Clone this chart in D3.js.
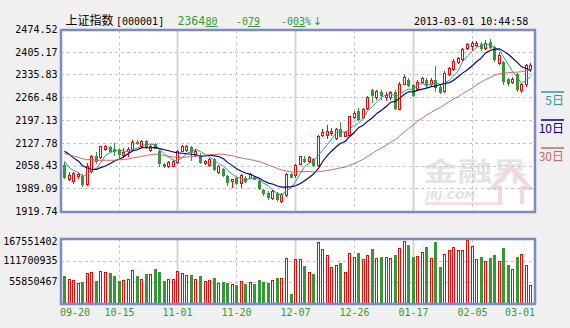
<!DOCTYPE html>
<html>
<head>
<meta charset="utf-8">
<script src="https://cdn.jsdelivr.net/npm/d3@7"></script>
<style>
html, body { margin: 0; padding: 0; background: #f0f0f0; }
svg { display: block; }
</style>
</head>
<body>
<svg id="chart" width="570" height="328"></svg>
<script>
// 上证指数 daily candles, 2012-09-20 .. 2013-03-01
const dates = [
  "09-20","09-21","09-24","09-25","09-26","09-27","09-28",
  "10-08","10-09","10-10","10-11","10-12","10-15","10-16","10-17","10-18","10-19",
  "10-22","10-23","10-24","10-25","10-26","10-29","10-30","10-31",
  "11-01","11-02","11-05","11-06","11-07","11-08","11-09","11-12","11-13","11-14","11-15","11-16",
  "11-19","11-20","11-21","11-22","11-23","11-26","11-27","11-28","11-29","11-30",
  "12-03","12-04","12-05","12-06","12-07","12-10","12-11","12-12","12-13","12-14",
  "12-17","12-18","12-19","12-20","12-21","12-24","12-25","12-26","12-27","12-28","12-31",
  "01-04","01-07","01-08","01-09","01-10","01-11","01-14","01-15","01-16","01-17","01-18",
  "01-21","01-22","01-23","01-24","01-25","01-28","01-29","01-30","01-31",
  "02-01","02-04","02-05","02-06","02-07","02-08","02-18","02-19","02-20","02-21","02-22",
  "02-25","02-26","02-27","02-28","03-01"
];

const opens = [
  2060.5,2016.6,2012.6,2026.8,2027.9,2001.4,2043.1,2085.9,2082.9,2108.4,
  2113.5,2109.4,2106.3,2091.0,2101.2,2108.4,2130.8,2118.6,2131.8,2106.3,
  2122.6,2101.2,2062.5,2055.4,2058.4,2067.6,2103.3,2104.3,2113.5,2091.0,
  2091.0,2065.6,2060.5,2077.8,2040.1,2047.2,2027.9,2012.6,2021.7,2004.4,
  2021.7,2021.7,2024.8,2012.6,1984.0,1976.0,1958.5,1975.9,1951.4,1968.7,
  2031.9,2029.9,2063.5,2078.8,2070.7,2077.8,2060.5,2150.2,2152.2,2157.3,
  2142.0,2169.5,2149.1,2152.2,2206.2,2223.6,2206.2,2233.8,2288,2267,
  2283,2268,2268,2283,2232,2308,2320,2303,2293,2313,
  2320,2306,2318,2298,2285,2338,2354,2374,2382,2417,
  2424,2426,2430,2418,2436,2420,2372,2375,2322,2313,
  2336,2288,2306,2352
];
const highs = [
  2067.6,2040.1,2040.1,2040.1,2033.0,2065.6,2091.0,2098.2,2118.6,2121.6,
  2118.6,2126.7,2111.4,2111.4,2114.5,2136.9,2134.9,2136.9,2136.9,2122.6,
  2126.7,2106.3,2065.6,2070.7,2073.7,2106.3,2119.6,2120.6,2116.5,2108.4,
  2096.1,2075.8,2080.9,2080.9,2060.5,2050.3,2029.9,2017.7,2024.8,2032.9,
  2026.8,2037.0,2026.8,2016.6,1986.0,1980.0,1984.0,1978.9,1975.9,2037.0,
  2037.0,2063.5,2088.0,2088.0,2085.9,2080.9,2151.2,2169.5,2182.8,2172.6,
  2172.6,2189.9,2162.4,2210.3,2223.6,2233.8,2233.8,2269.4,2293,2290,
  2288,2283,2286,2288,2313,2334,2326,2308,2318,2329,
  2324,2324,2362,2303,2345,2360,2382,2388,2418,2432,
  2438,2437,2434,2440,2444,2424,2400,2378,2326,2328,
  2340,2310,2368,2370
];
const lows = [
  2019.7,2014.6,2004.4,2019.7,1997.3,1999.3,2040.1,2065.6,2080.9,2104.3,
  2098.2,2091.0,2083.9,2083.9,2088.0,2106.3,2123.7,2114.5,2111.4,2102.3,
  2110.4,2055.4,2054.4,2053.3,2055.4,2065.6,2101.2,2101.2,2074.8,2085.9,
  2065.6,2062.5,2057.4,2045.2,2035.0,2026.8,1999.3,1994.2,2002.4,1992.2,
  2009.5,2019.7,2016.6,1986.0,1968.7,1957.0,1955.5,1951.4,1948.3,1965.7,
  2022.8,2024.8,2061.5,2067.6,2067.6,2057.4,2058.4,2149.1,2142.0,2152.2,
  2139.0,2147.1,2147.1,2150.2,2203.2,2198.1,2203.2,2230.7,2252,2262,
  2262,2257,2262,2232,2230,2306,2300,2270,2290,2310,
  2298,2303,2285,2280,2282,2334,2350,2370,2380,2414,
  2410,2422,2412,2414,2418,2378,2368,2306,2304,2310,
  2286,2284,2302,2345
];
const closes = [
  2022.8,2029.9,2035.0,2033.0,2002.4,2055.4,2085.9,2070.7,2116.5,2118.6,
  2101.2,2102.3,2094.1,2098.2,2108.4,2130.8,2125.7,2132.8,2113.5,2118.6,
  2112.5,2065.6,2057.4,2067.6,2070.7,2103.3,2116.5,2116.5,2099.2,2103.3,
  2068.6,2072.7,2077.8,2047.2,2055.4,2029.9,2009.5,2016.6,2004.4,2029.9,
  2011.5,2032.9,2018.7,1989.1,1973.8,1961.0,1981.0,1955.5,1970.8,2033.0,
  2024.8,2060.5,2085.9,2072.7,2082.9,2059.4,2149.1,2159.3,2162.4,2162.4,
  2169.5,2149.1,2159.3,2208.3,2218.5,2201.1,2230.7,2267.4,2273,2286,
  2273,2272,2283,2235,2308,2329,2303,2273,2313,2324,
  2303,2318,2298,2283,2340,2356,2378,2385,2415,2428,
  2431,2433,2416,2433,2421,2383,2396,2315,2310,2322,
  2291,2306,2365.59,2364.80
];
// traded volume (shares)
const volumes = [
  71900000,63500000,60900000,53300000,56700000,78700000,81200000,59200000,86300000,81200000,
  79500000,71900000,59200000,60900000,63500000,88800000,71900000,63500000,77000000,76200000,
  89700000,82100000,59200000,63500000,63500000,86300000,78700000,73600000,73600000,63500000,
  71900000,58400000,60900000,66800000,53300000,56700000,54200000,50800000,49100000,58400000,
  51600000,55900000,51600000,61800000,56700000,54200000,60900000,66800000,66000000,119300000,
  26200000,116800000,116800000,97300000,81200000,77000000,159900000,142200000,126900000,96500000,
  101500000,104900000,81200000,132000000,121900000,130300000,116800000,126900000,140500000,119300000,
  121900000,121900000,119300000,125200000,144700000,162500000,153200000,120200000,124400000,134500000,
  148100000,119300000,159900000,94800000,129500000,139600000,147200000,139600000,139600000,165000000,
  149800000,116800000,120200000,110000000,117600000,125200000,111700000,144000000,99500000,90800000,
  120400000,128300000,99500000,48900000
];
// closes of the 29 sessions before 09-20, needed to seed the moving averages
const earlierCloses = [
  2168.8,2139.7,2150.0,2135.0,2123.0,2114.9,2112.0,2119.0,2105.0,2113.0,
  2092.0,2056.0,2073.0,2053.0,2047.5,2047.5,2059.0,2043.6,2037.7,2052.0,
  2127.5,2137.8,2132.5,2141.9,2121.7,2127.6,2075.5,2061.9,2067.0
];

const priceTicks = [1919.74, 1989.09, 2058.43, 2127.78, 2197.13, 2266.48, 2335.83, 2405.17, 2474.52];
const volumeTicks = [55850467, 111700935, 167551402];
const dateTicks = ["09-20","10-15","11-01","11-20","12-07","12-26","01-17","02-05","03-01"];
const maPeriods = [5, 10, 30];
const maLabels = ["5日", "10日", "30日"];

const UP = "#ff0000", DOWN = "#339933";
const MA_COLORS = ["#2e9a9a", "#000080", "#cc6666"];
const MONO = "'DejaVu Sans Mono', 'Liberation Mono', monospace";
const CJK = "'Noto Sans CJK SC', sans-serif";
const BORDER = "#7b8cc4";

const svg = d3.select("#chart");
const P = { left: 61, right: 535, top: 30, bottom: 212 };
const V = { top: 239, bottom: 304 };

const x = d3.scaleBand().domain(dates).range([62, 532.6]).paddingInner(0.3).paddingOuter(0.15);
const cx = d => Math.round(x(d) + x.bandwidth() / 2) + 0.5;
const y = d3.scaleLinear().domain([priceTicks[0], priceTicks[priceTicks.length - 1]]).range([211, 29]);
const yv = d3.scaleLinear().domain([0, volumeTicks[2]]).range([V.bottom, V.top]);

// panels
svg.append("rect").attr("x", P.left).attr("y", P.top).attr("width", P.right - P.left).attr("height", P.bottom - P.top).attr("fill", "#fff");
svg.append("rect").attr("x", P.left).attr("y", V.top).attr("width", P.right - P.left).attr("height", V.bottom - V.top).attr("fill", "#fff");

// watermark
const wm = svg.append("g");
wm.append("text").attr("x", 423).attr("y", 181).attr("font-family", CJK).attr("font-weight", "bold")
  .attr("font-size", 26).attr("textLength", 104).attr("lengthAdjust", "spacingAndGlyphs")
  .attr("fill", "#e4e4e4").text("金融界");
wm.append("text").attr("x", 426).attr("y", 199).attr("font-family", "'DejaVu Sans', sans-serif").attr("font-weight", "bold")
  .attr("font-style", "italic").attr("font-size", 11).attr("fill", "#e2e2e2").text("JRJ.COM");
wm.append("rect").attr("x", 425).attr("y", 202).attr("width", 78).attr("height", 3).attr("fill", "#f8dede");
wm.append("path").attr("d", "M500,204 L500,188 L492,188 L511,168 L530,188 L522,188 L522,204")
  .attr("fill", "none").attr("stroke", "#f6d6d6").attr("stroke-width", 4);

// horizontal grid
const grid = svg.append("g");
grid.selectAll("line.hp").data(priceTicks.slice(1, -1)).join("line")
  .attr("x1", P.left).attr("x2", P.right)
  .attr("y1", d => Math.round(y(d)) + 0.5).attr("y2", d => Math.round(y(d)) + 0.5)
  .attr("stroke", "#c4c4c4").attr("stroke-dasharray", "3,3");
grid.selectAll("line.hv").data(volumeTicks.slice(0, 2)).join("line")
  .attr("x1", P.left).attr("x2", P.right)
  .attr("y1", d => Math.round(yv(d)) + 0.5).attr("y2", d => Math.round(yv(d)) + 0.5)
  .attr("stroke", "#c4c4c4").attr("stroke-dasharray", "3,3");

// vertical grid, alternating dashed / solid
const inner = dateTicks.slice(1, -1);
[[P.top, P.bottom], [V.top, V.bottom]].forEach(([t, b]) => {
  grid.append("g").selectAll("line").data(inner).join("line")
    .attr("x1", d => cx(d)).attr("x2", d => cx(d)).attr("y1", t).attr("y2", b)
    .attr("stroke", (d, i) => i % 2 ? "#d4d4d4" : "#c4c4c4")
    .attr("stroke-width", (d, i) => i % 2 ? 2 : 1)
    .attr("stroke-dasharray", (d, i) => i % 2 ? null : "3,3");
});

// candles
const idx = d3.range(dates.length);
const candles = svg.append("g");
candles.selectAll("line").data(idx).join("line")
  .attr("x1", i => cx(dates[i])).attr("x2", i => cx(dates[i]))
  .attr("y1", i => Math.round(y(highs[i]))).attr("y2", i => Math.round(y(lows[i])) + 1)
  .attr("stroke", i => closes[i] >= opens[i] ? UP : DOWN);
candles.selectAll("rect").data(idx).join("rect")
  .each(function (i) {
    const up = closes[i] >= opens[i];
    const t = Math.round(y(Math.max(opens[i], closes[i])));
    const b = Math.max(t + 1, Math.round(y(Math.min(opens[i], closes[i]))));
    const c = cx(dates[i]);
    const r = d3.select(this);
    if (up) {
      r.attr("x", c - 1).attr("width", 2).attr("y", t + 0.5).attr("height", Math.max(1, b - t))
        .attr("fill", "#fff").attr("stroke", UP);
    } else {
      r.attr("x", c - 1.5).attr("width", 3).attr("y", t).attr("height", Math.max(1, b - t + 1))
        .attr("fill", DOWN);
    }
  });

// moving averages
const all = earlierCloses.concat(closes);
const off = earlierCloses.length;
svg.append("clipPath").attr("id", "plotClip").append("rect")
  .attr("x", P.left).attr("y", P.top).attr("width", P.right - P.left).attr("height", P.bottom - P.top);
maPeriods.forEach((n, k) => {
  const ma = idx.map(i => d3.mean(all.slice(off + i - n + 1, off + i + 1)));
  svg.append("path").attr("clip-path", "url(#plotClip)")
    .attr("d", d3.line().x(i => cx(dates[i])).y(i => y(ma[i]))(idx))
    .attr("fill", "none").attr("stroke", MA_COLORS[k]).attr("stroke-width", k === 1 ? 1.15 : 1);
});

// volume bars
const vol = svg.append("g");
vol.selectAll("rect").data(idx).join("rect")
  .each(function (i) {
    const up = closes[i] >= opens[i];
    const t = Math.round(yv(volumes[i]));
    const c = cx(dates[i]);
    const r = d3.select(this);
    if (up) {
      r.attr("x", c - 1).attr("width", 2).attr("y", t + 0.5).attr("height", V.bottom - t)
        .attr("fill", "#fff").attr("stroke", UP);
    } else {
      r.attr("x", c - 1.5).attr("width", 3).attr("y", t).attr("height", V.bottom - t).attr("fill", DOWN);
    }
  });

// panel borders
[[P.top, P.bottom], [V.top, V.bottom]].forEach(([t, b]) => {
  svg.append("rect").attr("x", P.left).attr("y", t).attr("width", P.right - P.left).attr("height", b - t)
    .attr("fill", "none").attr("stroke", BORDER).attr("stroke-width", 2.5);
});

// axis labels
const lab = svg.append("g").attr("font-family", MONO).attr("font-size", 10);
lab.selectAll("text.p").data(priceTicks).join("text")
  .attr("x", 57.5).attr("y", d => y(d) + 3.8).attr("text-anchor", "end").attr("fill", "#000")
  .text(d => d.toFixed(2));
lab.selectAll("text.v").data(volumeTicks).join("text")
  .attr("x", 57.5).attr("y", (d, i) => [281.3, 260.3, 241.5][i] + 3.8).attr("text-anchor", "end").attr("fill", "#000")
  .text(d => d);
lab.selectAll("text.d").data(dateTicks).join("text")
  .attr("x", (d, i) => i === 0 ? P.left - 1 : i === dateTicks.length - 1 ? P.right : cx(d))
  .attr("y", 315.5)
  .attr("text-anchor", (d, i) => i === 0 ? "start" : i === dateTicks.length - 1 ? "end" : "middle")
  .attr("fill", DOWN).text(d => d);

// legend
const leg = svg.append("g");
maLabels.forEach((t, k) => {
  const ly = 92 + k * 28;
  leg.append("line").attr("x1", 541).attr("x2", 564).attr("y1", ly).attr("y2", ly)
    .attr("stroke", MA_COLORS[k]).attr("stroke-width", 1.5);
  leg.append("text").attr("x", 564).attr("y", ly + 12.5).attr("text-anchor", "end")
    .attr("font-family", CJK).attr("font-size", 12).attr("fill", MA_COLORS[k]).text(t);
});

// header
const hd = svg.append("g");
hd.append("text").attr("x", 65.5).attr("y", 25).attr("font-family", CJK).attr("font-size", 12).attr("fill", "#000").text("上证指数");
hd.append("text").attr("x", 116).attr("y", 25).attr("font-family", MONO).attr("font-size", 10).attr("fill", "#000").text("[000001]");
const quote = [
  { x: 177.5, s: "2364", u: false, fs: 11.5 },
  { x: 205.5, s: "80", u: true, fs: 10 },
  { x: 236, s: "-0", u: false, fs: 10 },
  { x: 248, s: "79", u: true, fs: 10 },
  { x: 281, s: "-0", u: false, fs: 10 },
  { x: 293, s: "03", u: true, fs: 10 },
  { x: 305, s: "%", u: false, fs: 10 }
];
quote.forEach(q => {
  const t = hd.append("text").attr("x", q.x).attr("y", 25).attr("font-family", MONO)
    .attr("font-size", q.fs).attr("fill", DOWN).text(q.s);
  if (q.u) {
    const w = t.node().getComputedTextLength();
    hd.append("line").attr("x1", q.x).attr("x2", q.x + w).attr("y1", 26.5).attr("y2", 26.5).attr("stroke", DOWN);
  }
});
hd.append("text").attr("x", 313).attr("y", 25).attr("font-family", "'DejaVu Sans', sans-serif").attr("font-size", 11).attr("fill", DOWN).text("↓");
hd.append("text").attr("x", 414).attr("y", 25).attr("font-family", MONO).attr("font-size", 10).attr("fill", "#000").text("2013-03-01 10:44:58");
</script>
</body>
</html>
